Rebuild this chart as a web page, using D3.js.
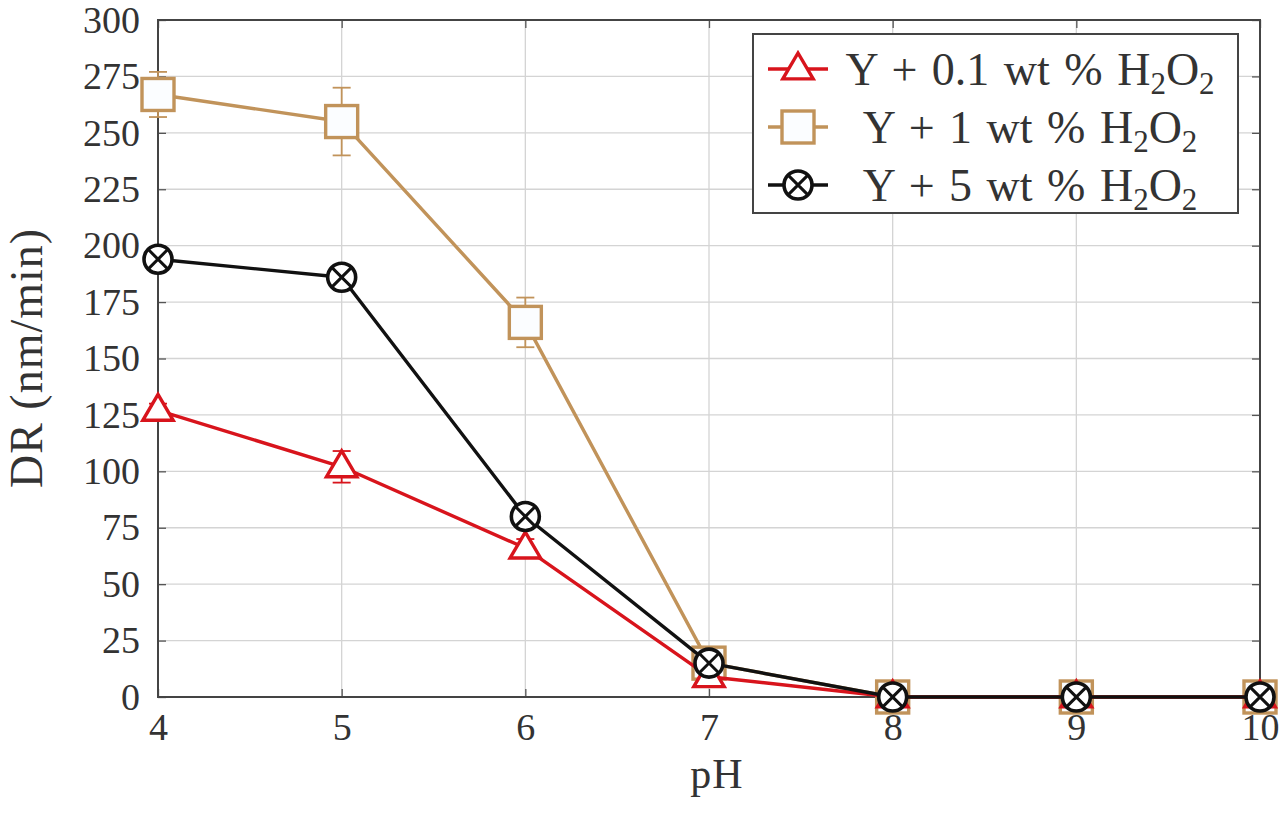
<!DOCTYPE html>
<html><head><meta charset="utf-8">
<script src="https://d3js.org/d3.v7.min.js"></script>
<style>
html,body{margin:0;padding:0;background:#fff;}
svg{display:block;}
text{font-family:"Liberation Serif","Times New Roman",serif;fill:#333;}
</style></head>
<body>
<svg id="chart" width="1280" height="816"></svg>
<script>
const pH = [4,5,6,7,8,9,10];
const xTicks = [4,5,6,7,8,9,10];
const yTicks = [0,25,50,75,100,125,150,175,200,225,250,275,300];
const seriesNames = ["Y + 0.1 wt % H", "Y + 1 wt % H", "Y + 5 wt % H"];
const redVals   = [127,102,66,9,0,0,0];
const redErr    = [3,7,4,2,0,0,0];
const tanVals   = [267,255,166,15,0,0,0];
const tanErr    = [10,15,11,3,0,0,0];
const blackVals = [194,186,80,15,0,0,0];
const blackErr  = [0,0,0,0,0,0,0];

const svg = d3.select("#chart");
const L=158, R=1260, T=20, B=697;
const x = d3.scaleLinear().domain([4,10]).range([L,R]);
const y = d3.scaleLinear().domain([0,300]).range([B,T]);

// grid
const g = svg.append("g");
g.selectAll(".gx").data(xTicks).enter().append("line")
  .attr("x1",d=>x(d)).attr("x2",d=>x(d)).attr("y1",T).attr("y2",B)
  .attr("stroke","#d4d4d4").attr("stroke-width",1.3);
g.selectAll(".gy").data(yTicks).enter().append("line")
  .attr("x1",L).attr("x2",R).attr("y1",d=>y(d)).attr("y2",d=>y(d))
  .attr("stroke","#d4d4d4").attr("stroke-width",1.3);

// axes
const fs = 38;
const ax = svg.append("g").attr("transform",`translate(0,${B})`)
  .call(d3.axisBottom(x).tickValues(xTicks).tickFormat(d3.format("d")).tickSizeInner(-8).tickSizeOuter(0).tickPadding(16));
const ay = svg.append("g").attr("transform",`translate(${L},0)`)
  .call(d3.axisLeft(y).tickValues(yTicks).tickFormat(d3.format("d")).tickSizeInner(-8).tickSizeOuter(0).tickPadding(18));
const ax2 = svg.append("g").attr("transform",`translate(0,${T})`)
  .call(d3.axisTop(x).tickValues(xTicks).tickFormat("").tickSizeInner(-8).tickSizeOuter(0));
const ay2 = svg.append("g").attr("transform",`translate(${R},0)`)
  .call(d3.axisRight(y).tickValues(yTicks).tickFormat("").tickSizeInner(-8).tickSizeOuter(0));
[ax,ay,ax2,ay2].forEach(a=>{
  a.select(".domain").remove();
  a.selectAll(".tick line").attr("stroke","#555").attr("stroke-width",1.3);
  a.selectAll("text").attr("font-size",fs).attr("fill","#333").attr("font-family","Liberation Serif, serif");
});
ax.selectAll("text").attr("dy","0.72em");
// frame
svg.append("rect").attr("x",L).attr("y",T).attr("width",R-L).attr("height",B-T)
  .attr("fill","none").attr("stroke","#444").attr("stroke-width",2);

// labels
svg.append("text").attr("x",(L+R)/2+8).attr("y",788).attr("text-anchor","middle")
  .attr("font-size",42).attr("letter-spacing",1).text("pH");
svg.append("text").attr("transform","translate(42,358) rotate(-90)").attr("text-anchor","middle")
  .attr("font-size",46).attr("letter-spacing",1).text("DR (nm/min)");

const red="#d8141c", tan="#c1935a", blk="#111";

function drawSeries(vals, errs, color, marker){
  const sg = svg.append("g");
  const line = d3.line().x((d,i)=>x(pH[i])).y(d=>y(d));
  sg.append("path").datum(vals).attr("d",line).attr("fill","none")
    .attr("stroke",color).attr("stroke-width",3.4).attr("stroke-linejoin","round");
  vals.forEach((v,i)=>{
    if(errs[i]<=0) return;
    const xx=x(pH[i]);
    sg.append("line").attr("x1",xx).attr("x2",xx).attr("y1",y(v+errs[i])).attr("y2",y(v-errs[i]))
      .attr("stroke",color).attr("stroke-width",1.8);
    [v+errs[i],v-errs[i]].forEach(e=>{
      sg.append("line").attr("x1",xx-9).attr("x2",xx+9).attr("y1",y(e)).attr("y2",y(e))
        .attr("stroke",color).attr("stroke-width",1.8);
    });
  });
  vals.forEach((v,i)=>drawMarker(sg, x(pH[i]), y(v), color, marker));
}
function drawMarker(sg,cx,cy,color,marker){
  if(marker==="tri"){
    const s=16;
    sg.append("path").attr("d",`M${cx},${cy-s} L${cx+s*0.95},${cy+s*0.62} L${cx-s*0.95},${cy+s*0.62} Z`)
      .attr("fill","#fff").attr("stroke",color).attr("stroke-width",3.4).attr("stroke-linejoin","miter");
  } else if(marker==="sq"){
    const s=16;
    sg.append("rect").attr("x",cx-s).attr("y",cy-s).attr("width",2*s).attr("height",2*s)
      .attr("fill","#fbfdff").attr("stroke",color).attr("stroke-width",3.4);
  } else {
    const r=14;
    sg.append("circle").attr("cx",cx).attr("cy",cy).attr("r",r)
      .attr("fill","#fff").attr("stroke",color).attr("stroke-width",3.6);
    const d=r*0.7071;
    sg.append("path").attr("d",`M${cx-d},${cy-d}L${cx+d},${cy+d}M${cx-d},${cy+d}L${cx+d},${cy-d}`)
      .attr("stroke",color).attr("stroke-width",3);
  }
}
drawSeries(tanVals, tanErr, tan, "sq");
drawSeries(redVals, redErr, red, "tri");
drawSeries(blackVals, blackErr, blk, "circ");

// legend
const lg = svg.append("g");
lg.append("rect").attr("x",753).attr("y",34).attr("width",485).attr("height",179)
  .attr("fill","#fff").attr("stroke","#444").attr("stroke-width",2);
const legendItems = [
  {name:seriesNames[0], color:red, marker:"tri"},
  {name:seriesNames[1], color:tan, marker:"sq"},
  {name:seriesNames[2], color:blk, marker:"circ"}
];
legendItems.forEach((it,i)=>{
  const cy = 69 + i*58;
  lg.append("line").attr("x1",768).attr("x2",828).attr("y1",cy).attr("y2",cy)
    .attr("stroke",it.color).attr("stroke-width",3.4);
  drawMarker(lg, 798, cy, it.color, it.marker);
  const t = lg.append("text").attr("x",1030).attr("y",cy+16).attr("text-anchor","middle")
    .attr("font-size",46).attr("word-spacing",3);
  t.append("tspan").text(it.name);
  t.append("tspan").attr("font-size",31).attr("dy",9).text("2");
  t.append("tspan").attr("font-size",46).attr("dy",-9).text("O");
  t.append("tspan").attr("font-size",31).attr("dy",9).text("2");
});
</script>
</body></html>
